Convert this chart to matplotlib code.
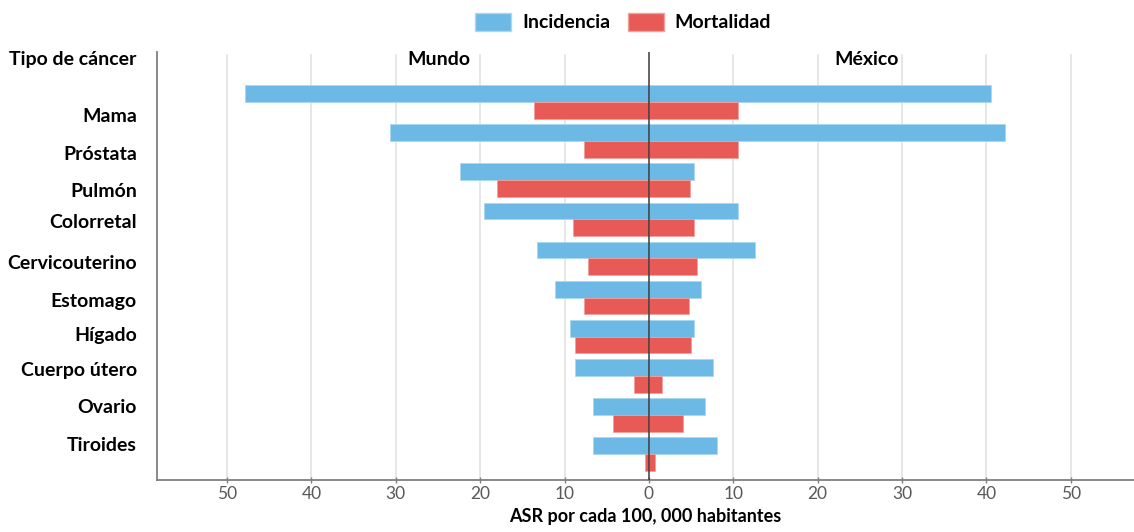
import matplotlib
matplotlib.use("Agg")
import matplotlib.pyplot as plt
import numpy as np
from matplotlib.patches import Patch

categories = ["Mama", "Próstata", "Pulmón", "Colorretal", "Cervicouterino",
              "Estomago", "Hígado", "Cuerpo útero", "Ovario", "Tiroides"]
mundo_incidencia = [47.9, 30.7, 22.4, 19.5, 13.3, 11.1, 9.4, 8.7, 6.6, 6.6]
mundo_mortalidad = [13.6, 7.7, 18.0, 9.0, 7.2, 7.7, 8.7, 1.8, 4.2, 0.4]
mexico_incidencia = [40.5, 42.2, 5.3, 10.6, 12.6, 6.2, 5.3, 7.55, 6.7, 8.1]
mexico_mortalidad = [10.56, 10.56, 4.9, 5.4, 5.7, 4.7, 5.0, 1.6, 4.1, 0.7]
tick_values = [50, 40, 30, 20, 10, 0, 10, 20, 30, 40, 50]

BLUE = "#6BB9E4"
RED = "#E85A55"
FONT = "Lato"
plt.rcParams["font.family"] = [FONT, "DejaVu Sans"]

fig = plt.figure(figsize=(11.34, 5.32), dpi=100)
ax = fig.add_axes([157/1134, 1-480/532, 1-157/1134, (480-52)/532])

n = len(categories)
y = np.arange(n)
h = 0.43
inc_y = y - h/2
mor_y = y + h/2
# Mundo (left, negative)
ax.barh(inc_y, -np.array(mundo_incidencia), height=h, color=BLUE, edgecolor="#A9D8F2", linewidth=0.6, zorder=2)
ax.barh(mor_y, -np.array(mundo_mortalidad), height=h, color=RED, edgecolor="#F2A09C", linewidth=0.6, zorder=2)
# México (right)
ax.barh(inc_y, mexico_incidencia, height=h, color=BLUE, edgecolor="#A9D8F2", linewidth=0.6, zorder=2)
ax.barh(mor_y, mexico_mortalidad, height=h, color=RED, edgecolor="#F2A09C", linewidth=0.6, zorder=2)

ax.set_xlim(-58.3, 57.5)
ax.set_ylim(9.665, -1.28)

xt = [-50, -40, -30, -20, -10, 0, 10, 20, 30, 40, 50]
ax.set_xticks(xt)
ax.set_xticklabels([str(v) for v in tick_values], color="#595959", fontsize=12.5)
ax.tick_params(axis="x", direction="inout", length=5, width=1, color="#7f7f7f", pad=2)
ax.set_yticks([])
for v in xt:
    if v != 0:
        ax.axvline(v, color="#E3E3E3", lw=1.2, zorder=0, ymax=1-3/428)
ax.axvline(0, color="#3a3a3a", lw=1.1, zorder=3)

for s in ["top", "right"]:
    ax.spines[s].set_visible(False)
ax.spines["left"].set_color("#7f7f7f")
ax.spines["left"].set_linewidth(1.3)
ax.spines["bottom"].set_color("#7f7f7f")
ax.spines["bottom"].set_linewidth(1.3)

# category labels
label_pos = [0.38, 1.35, 2.30, 3.07, 4.12, 5.11, 5.98, 6.87, 7.82, 8.79]
for lab, yp in zip(categories, label_pos):
    ax.text(-60.7, yp, lab, ha="right", va="center", fontsize=14,
            fontweight="bold", clip_on=False)
ax.text(-60.7, -1.08, "Tipo de cáncer", ha="right", va="center", fontsize=14,
        fontweight="bold", clip_on=False)
ax.text(-24.9, -1.08, "Mundo", ha="center", va="center", fontsize=14, fontweight="bold")
ax.text(25.8, -1.08, "México", ha="center", va="center", fontsize=14, fontweight="bold")

ax.set_xlabel("ASR por cada 100, 000 habitantes", fontsize=13, fontweight="bold", labelpad=4)

handles = [Patch(facecolor=BLUE, edgecolor="#A9D8F2", label="Incidencia"),
           Patch(facecolor=RED, edgecolor="#F2A09C", label="Mortalidad")]
leg = fig.legend(handles=handles, loc="center", bbox_to_anchor=(623/1134, 1-22/532), ncol=2,
                 frameon=False, handlelength=1.85, handleheight=1.05, columnspacing=0.9,
                 handletextpad=0.55, prop={"family": FONT, "weight": "bold", "size": 14})

fig.savefig("out.png", dpi=100)
